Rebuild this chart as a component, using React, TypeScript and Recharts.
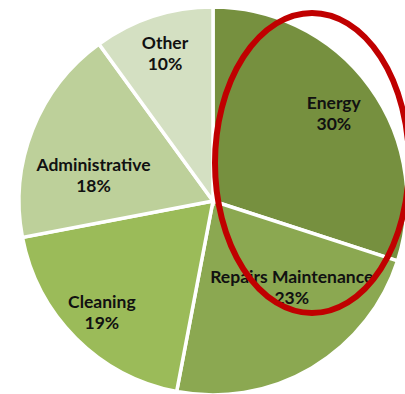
import React from "react";
import { PieChart, Pie, Cell } from "recharts";

const categories = ["Energy", "Repairs Maintenance", "Cleaning", "Administrative", "Other"];
const shares = [30, 23, 19, 18, 10];
const sliceColors = ["#76903F", "#8BA851", "#9BBB59", "#BDD09A", "#D4E0C2"];
// label placement: fraction of radius and angle offset (deg) from slice middle
const labelRadius = [0.77, 0.6, 0.81, 0.63, 0.8];
const labelAngleShift = [0, 12, 0, 9.4, 0];

const data = categories.map((name, i) => ({ name, value: shares[i] }));

const RAD = Math.PI / 180;

const renderLabel = (props: any) => {
  const { cx, cy, outerRadius, midAngle, index, name, value } = props;
  const r = outerRadius * labelRadius[index];
  const a = (midAngle + labelAngleShift[index]) * RAD;
  const x = cx + r * Math.cos(a);
  const y = cy - r * Math.sin(a);
  return (
    <text
      x={x}
      y={y}
      textAnchor="middle"
      fontFamily="Lato, 'Open Sans', sans-serif"
      fontWeight={700}
      fontSize={17.5}
      fill="#111"
    >
      <tspan x={x} dy={-4}>{name}</tspan>
      <tspan x={x} dy={21}>{`${value}%`}</tspan>
    </text>
  );
};

export default function App() {
  return (
    <div style={{ position: "absolute", left: 0, top: 0, width: 405, height: 394, background: "#fff" }}>
      <PieChart width={405} height={394} margin={{ top: 0, right: 0, bottom: 0, left: 0 }}>
        <Pie
          data={data}
          dataKey="value"
          nameKey="name"
          cx={213}
          cy={201}
          outerRadius={194}
          startAngle={90}
          endAngle={-270}
          stroke="#fff"
          strokeWidth={3.5}
          label={renderLabel}
          labelLine={false}
          isAnimationActive={false}
        >
          {data.map((d, i) => (
            <Cell key={d.name} fill={sliceColors[i]} />
          ))}
        </Pie>
      </PieChart>
      <svg
        width={405}
        height={394}
        style={{ position: "absolute", left: 0, top: 0, pointerEvents: "none" }}
      >
        <ellipse cx={312} cy={163} rx={97} ry={150} fill="none" stroke="#C00000" strokeWidth={6} />
      </svg>
    </div>
  );
}
